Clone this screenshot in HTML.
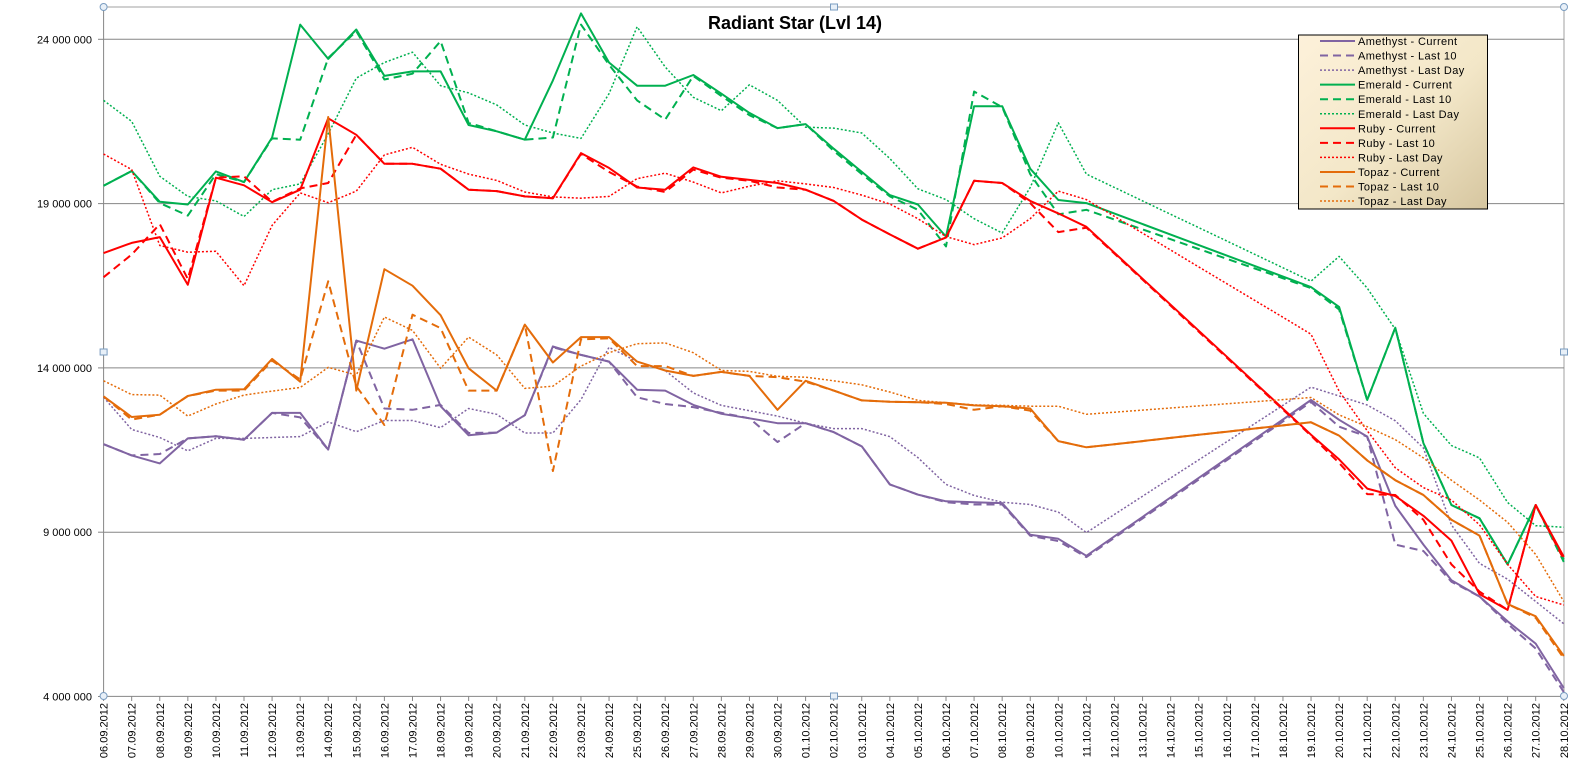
<!DOCTYPE html>
<html><head><meta charset="utf-8"><style>
body{margin:0;background:#fff;}
svg{display:block;font-family:"Liberation Sans",sans-serif;}
</style></head><body>
<svg id="c" width="1589" height="777" xmlns="http://www.w3.org/2000/svg"></svg>
<script>
const S=document.getElementById('c');let h='';
const X0=103.6,DX=28.08,Y24=39.3,YS=32.86;
const yv=v=>Y24+(24-v)*YS;
// frame
h+='<line x1="103.6" y1="7" x2="1564" y2="7" stroke="#a0a0a0"/>';
h+='<line x1="1564" y1="7" x2="1564" y2="696" stroke="#a0a0a0"/>';
[24,19,14,9].forEach(v=>{h+=`<line x1="103.6" y1="${yv(v)}" x2="1564" y2="${yv(v)}" stroke="#868686"/>`;});
[24,19,14,9,4].forEach(v=>{h+=`<text x="92" y="${yv(v)+4}" font-size="11" text-anchor="end">${v} 000 000</text><line x1="98" y1="${yv(v)}" x2="103.6" y2="${yv(v)}" stroke="#868686"/>`;});
h+='<line x1="103.6" y1="7" x2="103.6" y2="696.4" stroke="#868686"/><line x1="103.6" y1="696.4" x2="1564" y2="696.4" stroke="#868686"/>';
// dates
const d0=new Date(2012,8,6);
for(let i=0;i<53;i++){const x=X0+DX*i;const d=new Date(d0.getTime()+i*864e5+3600e3);
const s=String(d.getDate()).padStart(2,'0')+'.'+String(d.getMonth()+1).padStart(2,'0')+'.2012';
h+=`<line x1="${x}" y1="696" x2="${x}" y2="701" stroke="#868686"/>`;
h+=`<text transform="translate(${x+4},703) rotate(-90)" font-size="11" text-anchor="end">${s}</text>`;}
function mk(A,B){const o=[];for(let i=0;i<36;i++)o[i]=A[i]/2.24;for(let i=43;i<53;i++)o[i]=B[i-43]/2.02;
for(let i=36;i<43;i++){o[i]=o[35]+(o[43]-o[35])*(i-35)/8;}return o;}
const P='#8064a2',G='#00b050',R='#ff0000',O='#e46c0a';
const ser=[
[P,'s',[995,1020,1038,982,977,985,925,925,1007,763,781,760,910,975,969,930,776,795,810,873,875,907,927,937,948,948,968,1000,1085,1108,1123,1125,1127,1198,1207,1245],[808,848,882,1022,1100,1172,1205,1255,1300,1390]],
[P,'d',[995,1020,1017,982,977,985,925,935,1007,763,915,918,907,970,969,930,778,795,810,890,905,912,925,937,990,948,968,1000,1085,1108,1125,1130,1130,1200,1212,1248],[812,862,882,1100,1113,1175,1205,1260,1310,1398]],
[P,'o',[890,962,980,1010,982,982,980,978,945,967,942,942,958,915,928,970,970,895,778,810,830,880,908,920,932,948,960,960,978,1025,1085,1110,1125,1130,1147,1193],[782,800,818,850,905,1060,1138,1170,1215,1260]],
[G,'s',[416,383,452,458,384,408,308,55,132,66,170,160,160,280,294,313,180,30,140,192,192,168,210,253,287,278,333,385,437,458,530,238,238,378,448,455],[580,620,808,662,895,1020,1047,1140,1020,1130]],
[G,'d',[416,383,455,483,390,408,310,313,130,70,178,165,92,275,294,313,308,55,145,225,268,170,215,258,287,278,338,390,440,470,552,205,240,390,480,470],[582,625,808,662,895,1020,1047,1140,1020,1135]],
[G,'o',[225,272,395,440,450,485,425,412,300,175,140,117,192,208,235,280,298,310,210,60,150,218,248,190,225,285,287,298,355,423,447,490,522,420,275,390],[568,518,582,665,835,900,925,1015,1062,1065]],
[R,'s',[567,544,531,638,398,415,453,425,265,302,367,367,378,425,428,440,444,343,376,420,425,375,396,403,410,425,450,492,525,557,532,405,410,450,478,508],[878,928,987,1002,1042,1092,1200,1232,1020,1125]],
[R,'d',[621,570,502,625,398,395,452,422,410,302,367,367,378,425,428,440,444,345,385,418,430,380,398,405,420,425,450,492,525,557,532,405,410,455,520,510],[880,935,998,1000,1050,1140,1195,1232,1020,1130]],
[R,'o',[345,380,550,565,563,640,505,432,454,428,347,330,368,390,404,430,441,444,440,400,388,408,432,417,405,412,420,437,457,490,530,548,533,490,428,447],[675,790,870,945,985,1010,1060,1140,1205,1222]],
[O,'s',[888,934,929,887,873,872,804,855,262,875,603,640,706,825,875,727,812,755,755,810,830,842,833,842,918,853,875,897,900,901,902,908,910,915,988,1002],[853,880,930,970,1000,1050,1082,1220,1245,1325]],
[O,'d',[888,940,929,887,875,875,808,850,630,865,952,705,735,875,875,727,1055,760,758,820,820,842,833,842,845,855,875,897,900,901,905,918,910,920,988,1002],[853,880,930,970,1000,1050,1082,1220,1248,1330]],
[O,'o',[853,884,885,932,905,885,876,868,823,840,710,740,825,755,795,870,865,820,790,770,768,790,830,832,843,845,853,862,878,897,902,907,908,910,910,928],[803,838,862,888,925,970,1010,1055,1120,1215]]];
const sty={s:'stroke-width="2"',d:'stroke-width="2" stroke-dasharray="8,5"',o:'stroke-width="1.5" stroke-dasharray="2,2"'};
ser.forEach(s=>{const y=mk(s[2],s[3]);const pts=y.map((v,i)=>(X0+DX*i).toFixed(1)+','+v.toFixed(1)).join(' ');
h+=`<polyline points="${pts}" fill="none" stroke="${s[0]}" ${sty[s[1]]} stroke-linejoin="round"/>`;});
// title
h+='<text x="795" y="29" font-size="18" font-weight="bold" text-anchor="middle">Radiant Star (Lvl 14)</text>';
// legend
h+='<defs><linearGradient id="lg" x1="0" y1="0" x2="1" y2="1"><stop offset="0" stop-color="#fdf1da"/><stop offset="0.55" stop-color="#f3e7c8"/><stop offset="1" stop-color="#d6c6a0"/></linearGradient></defs>';
h+='<rect x="1298.5" y="35" width="189" height="174" fill="url(#lg)" stroke="#000" stroke-width="1"/>';
const names=['Amethyst - Current','Amethyst - Last 10','Amethyst - Last Day','Emerald - Current','Emerald - Last 10','Emerald - Last Day','Ruby - Current','Ruby - Last 10','Ruby - Last Day','Topaz - Current','Topaz - Last 10','Topaz - Last Day'];
names.forEach((n,i)=>{const y=41+i*14.55;const s=ser[i];
h+=`<line x1="1320" y1="${y}" x2="1355" y2="${y}" stroke="${s[0]}" ${sty[s[1]]}/>`;
h+=`<text x="1358" y="${y+4}" font-size="11" letter-spacing="0.4">${n}</text>`;});
// handles
[[103.6,7],[1564,7],[103.6,696],[1564,696]].forEach(p=>{h+=`<circle cx="${p[0]}" cy="${p[1]}" r="3.5" fill="#e8f0f8" stroke="#7a9cc0"/>`;});
[[834,7],[834,696],[103.6,352],[1564,352]].forEach(p=>{h+=`<rect x="${p[0]-3.5}" y="${p[1]-3}" width="7" height="6" fill="#e8f0f8" stroke="#7a9cc0"/>`;});
S.innerHTML=h;
</script>
</body></html>
